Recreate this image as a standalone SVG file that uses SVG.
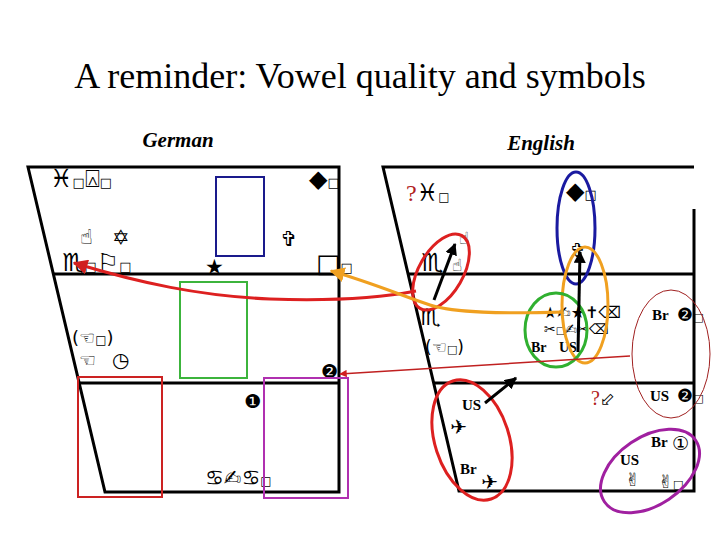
<svg xmlns="http://www.w3.org/2000/svg" width="720" height="540" viewBox="0 0 720 540">
<defs>
<style>
.frame{fill:none;stroke:#000;stroke-width:3}
.sym{font-family:"DejaVu Sans",sans-serif;fill:#000}
.lbl{font-family:"Liberation Serif",serif;font-weight:bold;fill:#000}
.q{font-family:"Liberation Serif",serif;fill:#b02020}
</style>
<marker id="ar" viewBox="0 0 10 10" refX="9" refY="5" markerWidth="5" markerHeight="5" orient="auto"><path d="M0,0L10,5L0,10z" fill="#d02020"/></marker>
<marker id="ao" viewBox="0 0 10 10" refX="9" refY="5" markerWidth="5" markerHeight="5" orient="auto"><path d="M0,0L10,5L0,10z" fill="#f0a020"/></marker>
<marker id="ab" viewBox="0 0 10 10" refX="9" refY="5" markerWidth="4" markerHeight="4" orient="auto"><path d="M0,0L10,5L0,10z" fill="#000"/></marker>
</defs>
<rect width="720" height="540" fill="#fff"/>
<text x="360" y="88" text-anchor="middle" font-family="Liberation Serif,serif" font-size="36">A reminder: Vowel quality and symbols</text>
<text x="178" y="147" text-anchor="middle" font-family="Liberation Serif,serif" font-weight="bold" font-style="italic" font-size="21">German</text>
<text x="541" y="150" text-anchor="middle" font-family="Liberation Serif,serif" font-weight="bold" font-style="italic" font-size="21">English</text>

<g id="german-frame">
<path class="frame" d="M28,167L339,167L339,492L105,492Z"/>
<line class="frame" x1="53" y1="274" x2="339" y2="274"/>
<line class="frame" x1="79" y1="383" x2="339" y2="383"/>
</g>
<g id="english-frame">
<path class="frame" d="M694,209L694,491L459,491L383,167L694,167"/>
<line class="frame" x1="408" y1="274" x2="694" y2="274"/>
<line class="frame" x1="434" y1="383" x2="694" y2="383"/>
</g>

<g id="german-symbols">
<text class="sym" x="50" y="187" font-size="25">♓<tspan font-size="13">□</tspan><tspan font-size="25">⍓</tspan><tspan font-size="13">□</tspan></text>
<text class="sym" x="309" y="187" font-size="24">◆<tspan font-size="13">□</tspan></text>
<text class="sym" x="80" y="244" font-size="21">☝</text>
<text class="sym" x="112" y="245" font-size="21">✡</text>
<text class="sym" x="280" y="246" font-size="21">✞</text>
<text class="sym" x="62" y="271" font-size="25">♏<tspan font-size="13">□</tspan><tspan font-size="25">⚐</tspan><tspan font-size="13">□</tspan></text>
<text class="sym" x="205" y="274" font-size="21">★</text>
<text class="sym" x="316" y="272" font-size="26">□<tspan font-size="13">□</tspan></text>
<text class="sym" x="72" y="344" font-size="18">(☜<tspan font-size="12">□</tspan>)</text>
<text class="sym" x="79" y="367" font-size="19">☜</text>
<text class="sym" x="112" y="367" font-size="20">◷</text>
<text class="sym" x="321" y="378" font-size="19">❷</text>
<text class="sym" x="244" y="408" font-size="19">❶</text>
<text class="sym" x="205" y="485" font-size="21">♋✍♋<tspan font-size="12">□</tspan></text>
</g>

<g id="german-boxes" fill="none" stroke-width="2">
<rect x="216" y="177" width="48" height="79" stroke="#1a1a8c"/>
<rect x="180" y="282" width="67" height="96" stroke="#3cb43c"/>
<rect x="78" y="377" width="84" height="120" stroke="#cc2222"/>
<rect x="264" y="378" width="84" height="120" stroke="#b030b0"/>
</g>

<g id="english-symbols">
<text x="406" y="201" font-size="24"><tspan class="q">?</tspan><tspan class="sym">♓</tspan><tspan class="sym" font-size="12">□</tspan></text>
<text class="sym" x="566" y="199" font-size="24">◆<tspan font-size="13">□</tspan></text>
<text class="sym" x="459" y="244" font-size="17">☝</text>
<text class="sym" x="452" y="271" font-size="17">☝</text>
<text class="sym" x="421" y="271" font-size="25">♏</text>
<text class="sym" x="570" y="257" font-size="19">✞</text>
<text class="sym" x="420" y="325" font-size="23">♏</text>
<text class="sym" x="425" y="353" font-size="17">(☜<tspan font-size="11">□</tspan>)</text>
<text class="sym" x="543" y="318" font-size="16">★✍★✝⌫</text>
<text class="lbl" x="652" y="320" font-size="15">Br</text>
<text class="sym" x="677" y="321" font-size="18">❷<tspan font-size="11">□</tspan></text>
<text class="sym" x="544" y="334" font-size="14">✂<tspan font-size="10">□</tspan>✍✂⌫</text>
<text class="lbl" x="531" y="352" font-size="14">Br</text>
<text class="lbl" x="559" y="352" font-size="14">US</text>
<text x="591" y="405" font-size="20"><tspan class="q">?</tspan><tspan class="sym" font-size="18">⬃</tspan></text>
<text class="lbl" x="650" y="401" font-size="15">US</text>
<text class="sym" x="677" y="402" font-size="18">❷<tspan font-size="11">□</tspan></text>
<text class="lbl" x="462" y="410" font-size="15">US</text>
<text class="sym" x="450" y="434" font-size="20">✈</text>
<text class="lbl" x="460" y="474" font-size="15">Br</text>
<text class="sym" x="481" y="489" font-size="20">✈</text>
<text class="lbl" x="651" y="447" font-size="15">Br</text>
<text class="sym" x="672" y="450" font-size="19">①</text>
<text class="lbl" x="620" y="465" font-size="15">US</text>
<text class="sym" x="625" y="486" font-size="18">✌</text>
<text class="sym" x="658" y="488" font-size="18">✌<tspan font-size="11">□</tspan></text>
</g>

<g id="english-ellipses" fill="none">
<ellipse cx="576" cy="228" rx="19" ry="56" stroke="#1a1aa0" stroke-width="3"/>
<ellipse cx="441" cy="272" rx="22" ry="42" transform="rotate(30 441 272)" stroke="#dd2020" stroke-width="3"/>
<ellipse cx="585" cy="305" rx="23" ry="58" stroke="#f0a020" stroke-width="3"/>
<ellipse cx="556" cy="330" rx="31" ry="37" stroke="#30b030" stroke-width="3"/>
<ellipse cx="671" cy="354" rx="39" ry="64" stroke="#a02020" stroke-width="1"/>
<ellipse cx="472" cy="440" rx="37" ry="62" transform="rotate(-18 472 440)" stroke="#dd2020" stroke-width="3"/>
<ellipse cx="650" cy="471" rx="55" ry="34" transform="rotate(-34 650 471)" stroke="#a020a0" stroke-width="3"/>
</g>

<g id="connectors" fill="none">
<path d="M416,291 C380,298 330,301 270,299 C200,296 140,283 74,263" stroke="#dd2020" stroke-width="3" marker-end="url(#ar)"/>
<path d="M563,312 C500,314 455,313 430,305 C400,295 370,282 331,271" stroke="#f0a020" stroke-width="3" marker-end="url(#ao)"/>
<line x1="630" y1="356" x2="340" y2="374" stroke="#c02020" stroke-width="1.5" marker-end="url(#ar)"/>
<line x1="434" y1="300" x2="455" y2="244" stroke="#000" stroke-width="3" marker-end="url(#ab)"/>
<line x1="578" y1="352" x2="580" y2="252" stroke="#000" stroke-width="3" marker-end="url(#ab)"/>
<line x1="485" y1="403" x2="516" y2="378" stroke="#000" stroke-width="3" marker-end="url(#ab)"/>
</g>
</svg>
